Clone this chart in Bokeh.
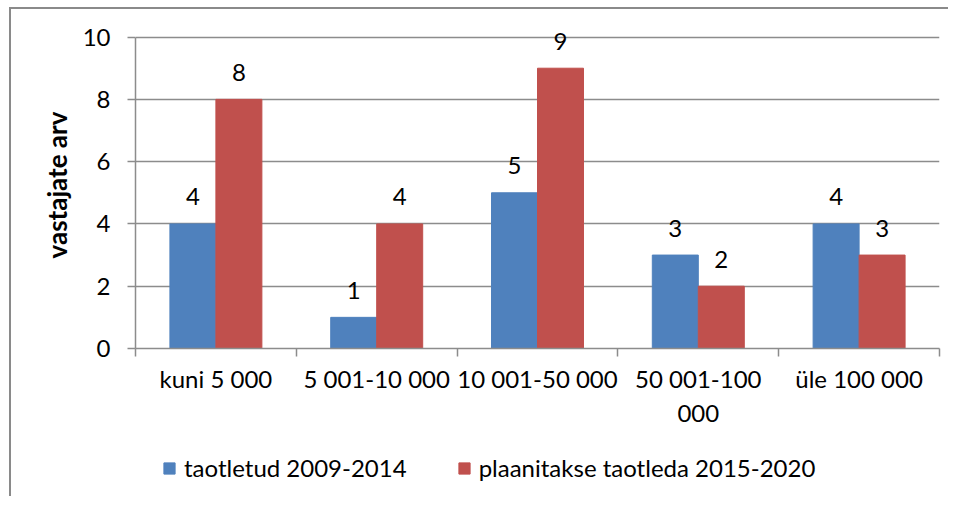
from bokeh.plotting import figure
from bokeh.layouts import column
from bokeh.models import Range1d, FixedTicker, Legend, LegendItem, ColumnDataSource
from bokeh.core.properties import value
from bokeh.embed import file_html
from bokeh.resources import INLINE

categories = ["kuni 5 000", "5 001-10 000", "10 001-50 000", "50 001-100\n000", "üle 100 000"]
series_names = ["taotletud 2009-2014", "plaanitakse taotleda 2015-2020"]
series1 = [4, 1, 5, 3, 4]
series2 = [8, 4, 9, 2, 3]
y_ticks = [0, 2, 4, 6, 8, 10]

FONT = "Lato"
BLUE = "#4F81BD"
RED = "#C0504D"
GRID = "#8c8c8c"

bw = 0.286
idx = list(range(len(categories)))
x1 = [i + 0.5 - bw / 2 for i in idx]
x2 = [i + 0.5 + bw / 2 for i in idx]
src1 = ColumnDataSource(dict(x=x1, top=series1, lbl=[str(v) for v in series1]))
src2 = ColumnDataSource(dict(x=x2, top=series2, lbl=[str(v) for v in series2]))

p = figure(width=948, height=440, x_range=Range1d(0, len(categories)), y_range=Range1d(0, 10.5),
           output_backend="svg", toolbar_location=None,
           min_border_left=135, min_border_right=9, min_border_top=21, min_border_bottom=92)
p.outline_line_color = None
p.border_fill_color = None

r1 = p.vbar(x="x", top="top", width=bw, bottom=0, source=src1, fill_color=BLUE, line_color=BLUE)
r2 = p.vbar(x="x", top="top", width=bw, bottom=0, source=src2, fill_color=RED, line_color=RED)

for s in (src1, src2):
    p.text(x="x", y="top", text="lbl", source=s, text_align="center", text_baseline="middle",
           y_offset=-27, text_font=value(FONT), text_font_size="24px", text_color="black")

# grid
p.xgrid.visible = False
p.ygrid.grid_line_color = GRID
p.ygrid.grid_line_width = 1.5
p.ygrid.ticker = FixedTicker(ticks=y_ticks)

# y axis
p.yaxis.ticker = FixedTicker(ticks=y_ticks)
p.yaxis.bounds = (0, 10)
p.yaxis.axis_line_color = GRID
p.yaxis.axis_line_width = 1.5
p.yaxis.major_tick_line_color = GRID
p.yaxis.major_tick_line_width = 1.5
p.yaxis.major_tick_out = 8
p.yaxis.major_tick_in = 0
p.yaxis.minor_tick_line_color = None
p.yaxis.major_label_text_font = FONT
p.yaxis.major_label_text_font_size = "24px"
p.yaxis.major_label_text_color = "black"
p.yaxis.major_label_standoff = 17
p.yaxis.axis_label = "vastajate arv"
p.yaxis.axis_label_text_font = FONT
p.yaxis.axis_label_text_font_size = "26px"
p.yaxis.axis_label_text_font_style = "bold"
p.yaxis.axis_label_text_color = "black"
p.yaxis.axis_label_standoff = 7

# x axis
centers = [i + 0.5 for i in idx]
bounds = list(range(len(categories) + 1))
p.xaxis.ticker = FixedTicker(ticks=centers, minor_ticks=bounds)
p.xaxis.major_label_overrides = {c: lab for c, lab in zip(centers, categories)}
p.xaxis.axis_line_color = GRID
p.xaxis.axis_line_width = 1.5
p.xaxis.major_tick_line_color = None
p.xaxis.major_tick_out = 0
p.xaxis.major_tick_in = 0
p.xaxis.minor_tick_line_color = GRID
p.xaxis.minor_tick_line_width = 1.5
p.xaxis.minor_tick_out = 8
p.xaxis.minor_tick_in = 0
p.xaxis.major_label_text_font = FONT
p.xaxis.major_label_text_font_size = "24px"
p.xaxis.major_label_text_color = "black"
p.xaxis.major_label_standoff = 7

# legend strip (its renderers are hidden; only their legend swatches show)
p2 = figure(width=948, height=56, x_range=Range1d(0, 1), y_range=Range1d(0, 1),
            output_backend="svg", toolbar_location=None, x_axis_type=None, y_axis_type=None,
            min_border=0)
p2.outline_line_color = None
p2.border_fill_color = None
p2.background_fill_color = None
p2.grid.visible = False
d1 = p2.vbar(x="x", top="top", width=bw, source=src1, fill_color=BLUE, line_color=BLUE, visible=False)
d2 = p2.vbar(x="x", top="top", width=bw, source=src2, fill_color=RED, line_color=RED, visible=False)

legend = Legend(items=[LegendItem(label=series_names[0], renderers=[d1]),
                       LegendItem(label=series_names[1], renderers=[d2])],
                orientation="horizontal", location=(27, 14))
legend.border_line_color = None
legend.background_fill_alpha = 0
legend.inactive_fill_alpha = 0
legend.label_text_font = FONT
legend.label_text_font_size = "24px"
legend.label_text_color = "black"
legend.glyph_width = 14
legend.glyph_height = 14
legend.label_standoff = 8
legend.spacing = 50
legend.padding = 3
legend.margin = 0
p2.add_layout(legend)

layout = column(p, p2, spacing=0,
                styles={"background": "linear-gradient(#8a8a8a,#8a8a8a) 9px 7px / 2px 100% no-repeat, "
                                      "linear-gradient(#8a8a8a,#8a8a8a) 9px 7px / 100% 2px no-repeat"})

open("out.html", "w").write(file_html(layout, INLINE))
